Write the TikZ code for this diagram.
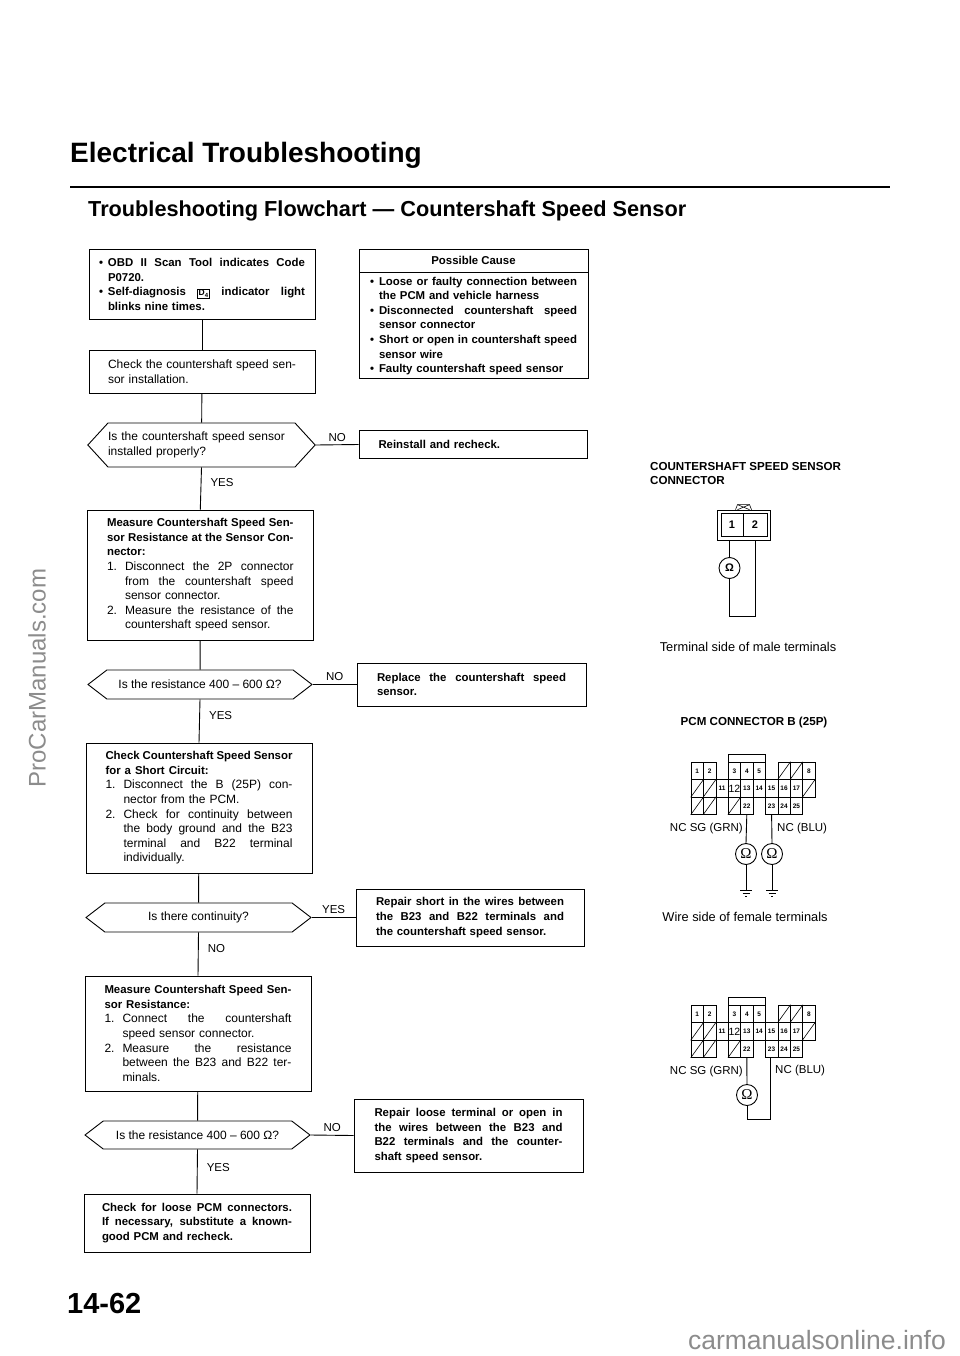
\documentclass[tikz,border=0pt]{standalone}
\usepackage{fontspec}
\setmainfont{Liberation Sans}
\newfontfamily\meterfont{Liberation Serif}
\usetikzlibrary{positioning,shapes.symbols}
\newcommand{\bodyfont}{\fontsize{12}{14.6}\selectfont}
\newcommand{\heavyfont}{\bfseries\fontsize{11.4}{14.6}\selectfont}
\newcommand{\fitline}[1]{\makebox[\hsize][s]{\spaceskip=.27em plus 3em minus .06em\relax #1}}
\newcommand{\numlabel}[1]{\makebox[18pt][l]{#1}}
\newcommand{\bulletlabel}{\makebox[9pt][l]{\textbullet}}
\newcommand{\dfour}{{\setlength{\fboxsep}{.8pt}\setlength{\fboxrule}{.7pt}\fbox{\fontsize{8.5}{9}\selectfont D\textsubscript{4}}}}

\begin{document}
\begin{tikzpicture}[
        x=1pt, y=-1pt,
        flowbox/.style={rectangle, draw, line width=.9pt, inner sep=0pt, align=left, font=\bodyfont},
        askbox/.style={signal, signal to=west and east, draw, line width=.9pt, inner sep=0pt, align=left, font=\bodyfont},
        flowline/.style={line width=.9pt},
        answer/.style={font=\fontsize{11.5}{13}\selectfont, inner sep=2pt},
        wire/.style={line width=.9pt},
        meter/.style={circle, draw, line width=.9pt, inner sep=0pt, minimum size=21pt, font=\meterfont\fontsize{15}{15}\selectfont},
        pincell/.style={rectangle, draw, line width=.6pt, inner sep=0pt, minimum width=12.4pt, minimum height=17.5pt, text height=5pt, text depth=0pt, font=\bfseries\fontsize{6.5}{7}\selectfont},
        wirelabel/.style={font=\fontsize{11.5}{13}\selectfont, inner sep=0pt},
        viewlabel/.style={font=\fontsize{12.8}{15}\selectfont, inner sep=0pt},
        pcmconn/.pic={
            \foreach \pinname/\col/\row in {1/0/0,2/1/0,3/3/0,4/4/0,5/5/0,8/9/0,11/2/1,13/4/1,14/5/1,15/6/1,16/7/1,17/8/1,22/4/2,23/6/2,24/7/2,25/8/2}
                \node[pincell] (\pinname) at (6.2+12.4*\col,8.75+17.5*\row) {\pinname};
            \node[pincell, text height=8pt, font=\fontsize{10.5}{11}\selectfont] (12) at (6.2+12.4*3,8.75+17.5) {12};
            \foreach \col/\row in {7/0,8/0,0/1,1/1,9/1,0/2,1/2,3/2} {
                \node[pincell] (h\col\row) at (6.2+12.4*\col,8.75+17.5*\row) {};
                \draw[line width=.6pt] (h\col\row.south west) -- (h\col\row.north east);
            }
            \draw[line width=.6pt] (3.north west) -- ++(0,-7) -| (5.north east);
        },
        groundsym/.pic={
            \draw[line width=.8pt] (-6,0) -- (6,0);
            \draw[line width=.7pt] (-3.5,3) -- (3.5,3);
            \draw[line width=.6pt] (-1,6) -- (1,6);
        }
    ]
        \useasboundingbox (0,0) rectangle (960,1356);

        % Headings
        \node[font=\bfseries\fontsize{28}{30}\selectfont, inner sep=0pt, anchor=west] (pagetitle) at (70,155) {Electrical Troubleshooting};
        \coordinate (ruleleft) at (70,187);
        \coordinate (ruleright) at (890,187);
        \draw[line width=1.4pt] (ruleleft) -- (ruleright);
        \node[font=\bfseries\fontsize{21.7}{24}\selectfont, inner sep=0pt, anchor=west] (flowtitle) at (88,211) {Troubleshooting Flowchart --- Countershaft Speed Sensor};

        % Left column
        \node[flowbox, minimum width=226pt, minimum height=70pt, text width=206pt, font=\heavyfont] (scan) at (202,284.5) {%
            \fitline{\bulletlabel OBD II Scan Tool indicates Code}\\
            \hspace*{9pt}P0720.\\
            \fitline{\bulletlabel Self-diagnosis \dfour{} indicator light}\\
            \hspace*{9pt}blinks nine times.};
        \node[flowbox, minimum width=226pt, minimum height=43pt, text width=188pt] (install) at (202,371.5) {%
            \fitline{Check the countershaft speed sen-}\\sor installation.};
        \node[askbox, minimum width=227pt, minimum height=44pt, signal pointer angle=95, text width=187pt] (properly) at (201.5,445) {%
            Is the countershaft speed sensor\\installed properly?};
        \node[flowbox, minimum width=225.5pt, minimum height=130pt, text width=186.5pt] (sensorres) at (200.3,575) {%
            \heavyfont\fitline{Measure Countershaft Speed Sen-}\\
            \fitline{sor Resistance at the Sensor Con-}\\
            nector:\\
            \mdseries\bodyfont\fitline{\numlabel{1.}Disconnect the 2P connector}\\
            \fitline{\hspace*{18pt}from the countershaft speed}\\
            \hspace*{18pt}sensor connector.\\
            \fitline{\numlabel{2.}Measure the resistance of the}\\
            \hspace*{18pt}countershaft speed sensor.};
        \node[askbox, minimum width=224pt, minimum height=29pt, signal pointer angle=75, align=center] (resone) at (200,684.5) {Is the resistance 400 -- 600 Ω?};
        \node[flowbox, minimum width=226pt, minimum height=130pt, text width=187pt] (shortcheck) at (199,808) {%
            \heavyfont\fitline{Check Countershaft Speed Sensor}\\
            for a Short Circuit:\\
            \mdseries\bodyfont\fitline{\numlabel{1.}Disconnect the B (25P) con-}\\
            \hspace*{18pt}nector from the PCM.\\
            \fitline{\numlabel{2.}Check for continuity between}\\
            \fitline{\hspace*{18pt}the body ground and the B23}\\
            \fitline{\hspace*{18pt}terminal and B22 terminal}\\
            \hspace*{18pt}individually.};
        \node[askbox, minimum width=225pt, minimum height=29pt, signal pointer angle=75, align=center] (continuity) at (198.5,917.5) {Is there continuity?};
        \node[flowbox, minimum width=226pt, minimum height=115pt, text width=187pt] (wireres) at (198,1033.5) {%
            \heavyfont\fitline{Measure Countershaft Speed Sen-}\\
            sor Resistance:\\
            \mdseries\bodyfont\fitline{\numlabel{1.}Connect the countershaft}\\
            \hspace*{18pt}speed sensor connector.\\
            \fitline{\numlabel{2.}Measure the resistance}\\
            \fitline{\hspace*{18pt}between the B23 and B22 ter-}\\
            \hspace*{18pt}minals.};
        \node[askbox, minimum width=225pt, minimum height=28pt, signal pointer angle=75, align=center] (restwo) at (197.5,1135) {Is the resistance 400 -- 600 Ω?};
        \node[flowbox, minimum width=226pt, minimum height=58pt, text width=190pt, font=\heavyfont] (loosepcm) at (197,1223) {%
            \fitline{Check for loose PCM connectors.}\\
            \fitline{If necessary, substitute a known-}\\
            good PCM and recheck.};

        % Right column
        \node[flowbox, minimum width=229pt, minimum height=23pt, align=center, font=\heavyfont] (causehead) at (473.5,260.5) {Possible Cause};
        \node[flowbox, minimum width=229pt, minimum height=106pt, text width=207pt, font=\heavyfont, below=0pt of causehead] (causes) {%
            \fitline{\bulletlabel Loose or faulty connection between}\\
            \hspace*{9pt}the PCM and vehicle harness\\
            \fitline{\bulletlabel Disconnected countershaft speed}\\
            \hspace*{9pt}sensor connector\\
            \fitline{\bulletlabel Short or open in countershaft speed}\\
            \hspace*{9pt}sensor wire\\
            \bulletlabel Faulty countershaft speed sensor};
        \node[flowbox, minimum width=228pt, minimum height=28pt, text width=189pt, font=\heavyfont] (reinstall) at (473,444.5) {Reinstall and recheck.};
        \node[flowbox, minimum width=229pt, minimum height=43pt, text width=189pt, font=\heavyfont] (replace) at (471.5,684.5) {%
            \fitline{Replace the countershaft speed}\\sensor.};
        \node[flowbox, minimum width=228pt, minimum height=57pt, text width=188pt, font=\heavyfont] (repshort) at (470,917.5) {%
            \fitline{Repair short in the wires between}\\
            \fitline{the B23 and B22 terminals and}\\
            the countershaft speed sensor.};
        \node[flowbox, minimum width=229pt, minimum height=73pt, text width=188pt, font=\heavyfont] (reploose) at (468.5,1135.5) {%
            \fitline{Repair loose terminal or open in}\\
            \fitline{the wires between the B23 and}\\
            \fitline{B22 terminals and the counter-}\\
            shaft speed sensor.};

        % Connectors
        \draw[flowline] (scan) -- (install);
        \draw[flowline] (install) -- (properly);
        \draw[flowline] (properly.south) -- node[answer, pos=.37, right=7pt] {YES} (sensorres.north);
        \draw[flowline] (sensorres) -- (resone);
        \draw[flowline] (resone.south) -- node[answer, pos=.37, right=7pt] {YES} (shortcheck.north);
        \draw[flowline] (shortcheck) -- (continuity);
        \draw[flowline] (continuity.south) -- node[answer, pos=.37, right=7pt] {NO} (wireres.north);
        \draw[flowline] (wireres) -- (restwo);
        \draw[flowline] (restwo.south) -- node[answer, pos=.4, right=7pt] {YES} (loosepcm.north);
        \draw[flowline] (properly.east) -- node[answer, above=1pt] {NO} (reinstall.west);
        \draw[flowline] (resone.east) -- node[answer, above=1pt] {NO} (replace.west);
        \draw[flowline] (continuity.east) -- node[answer, above=1pt] {YES} (repshort.west);
        \draw[flowline] (restwo.east) -- node[answer, above=1pt] {NO} (reploose.west);

        % Sensor connector
        \node[font=\bfseries\fontsize{11.6}{14}\selectfont, align=left, inner sep=0pt, anchor=west] (sensorhead) at (650,474) {COUNTERSHAFT SPEED SENSOR\\CONNECTOR};
        \node[rectangle, draw, line width=.7pt, minimum width=53pt, minimum height=30pt, inner sep=0pt] (shell) at (743.5,525) {};
        \node[pincell, minimum width=22pt, minimum height=23pt, text height=8pt, font=\bfseries\fontsize{11}{11}\selectfont] (pin1) at (732,524.5) {1};
        \node[pincell, minimum width=24pt, minimum height=23pt, text height=8pt, font=\bfseries\fontsize{11}{11}\selectfont] (pin2) at (755,524.5) {2};
        \draw[line width=.6pt] (shell.north) ++(-8,0) -- ++(2,-5) -- ++(12,0) -- ++(2,5);
        \draw[line width=.6pt] (shell.north) ++(-6,-5) -- ++(12,5) ++(0,-5) -- ++(-12,5);
        \node[meter, font=\bfseries\fontsize{11}{11}\selectfont] (sensormeter) at (729.5,568) {Ω};
        \coordinate (loopleft) at (729.5,616);
        \coordinate (loopright) at (755.5,616);
        \draw[wire] (sensormeter.north) -- (sensormeter.north |- shell.south);
        \draw[wire] (sensormeter.south) -- (loopleft) -- (loopright) -- (loopright |- shell.south);
        \node[viewlabel] (maleside) at (748,647) {Terminal side of male terminals};

        % PCM connector, resistance to ground
        \node[font=\bfseries\fontsize{11.6}{13}\selectfont, inner sep=0pt] (pcmhead) at (754,722) {PCM CONNECTOR B (25P)};
        \pic (top) at (691,762) {pcmconn};
        \node[wirelabel, anchor=east] (topsg) at (743,829) {NC SG (GRN)};
        \node[wirelabel, anchor=west] (topnc) at (777,829) {NC (BLU)};
        \node[meter] (meterb22) at (746,854) {Ω};
        \node[meter] (meterb23) at (772,854) {Ω};
        \coordinate (earthb22) at (746,890);
        \coordinate (earthb23) at (772,890);
        \draw[wire] (top22.south) -- (meterb22.north);
        \draw[wire] (top23.south) -- (meterb23.north);
        \draw[wire] (meterb22.south) -- (earthb22);
        \draw[wire] (meterb23.south) -- (earthb23);
        \pic at (earthb22) {groundsym};
        \pic at (earthb23) {groundsym};
        \node[viewlabel] (femaleside) at (745,917) {Wire side of female terminals};

        % PCM connector, resistance between terminals
        \pic (low) at (691,1005) {pcmconn};
        \node[wirelabel, anchor=east] (lowsg) at (743,1072) {NC SG (GRN)};
        \node[wirelabel, anchor=west] (lownc) at (775,1071) {NC (BLU)};
        \node[meter] (meterloop) at (747,1095) {Ω};
        \coordinate (lowleft) at (747,1119);
        \coordinate (lowright) at (770,1119);
        \draw[wire] (low22.south) -- (meterloop.north);
        \draw[wire] (meterloop.south) -- (lowleft) -- (lowright) -- (low23.south -| lowright);

        % Page number and site marks
        \node[font=\bfseries\fontsize{29}{31}\selectfont, inner sep=0pt, anchor=west] (pageno) at (67,1304) {14-62};
        \node[text=black!45, font=\fontsize{24}{26}\selectfont, inner sep=0pt, rotate=90] (sidemark) at (37,678) {ProCarManuals.com};
        \node[text=black!45, font=\fontsize{26.5}{28}\selectfont, inner sep=0pt, anchor=base east] (footmark) at (946,1349) {carmanualsonline.info};
    \end{tikzpicture}
\end{document}
